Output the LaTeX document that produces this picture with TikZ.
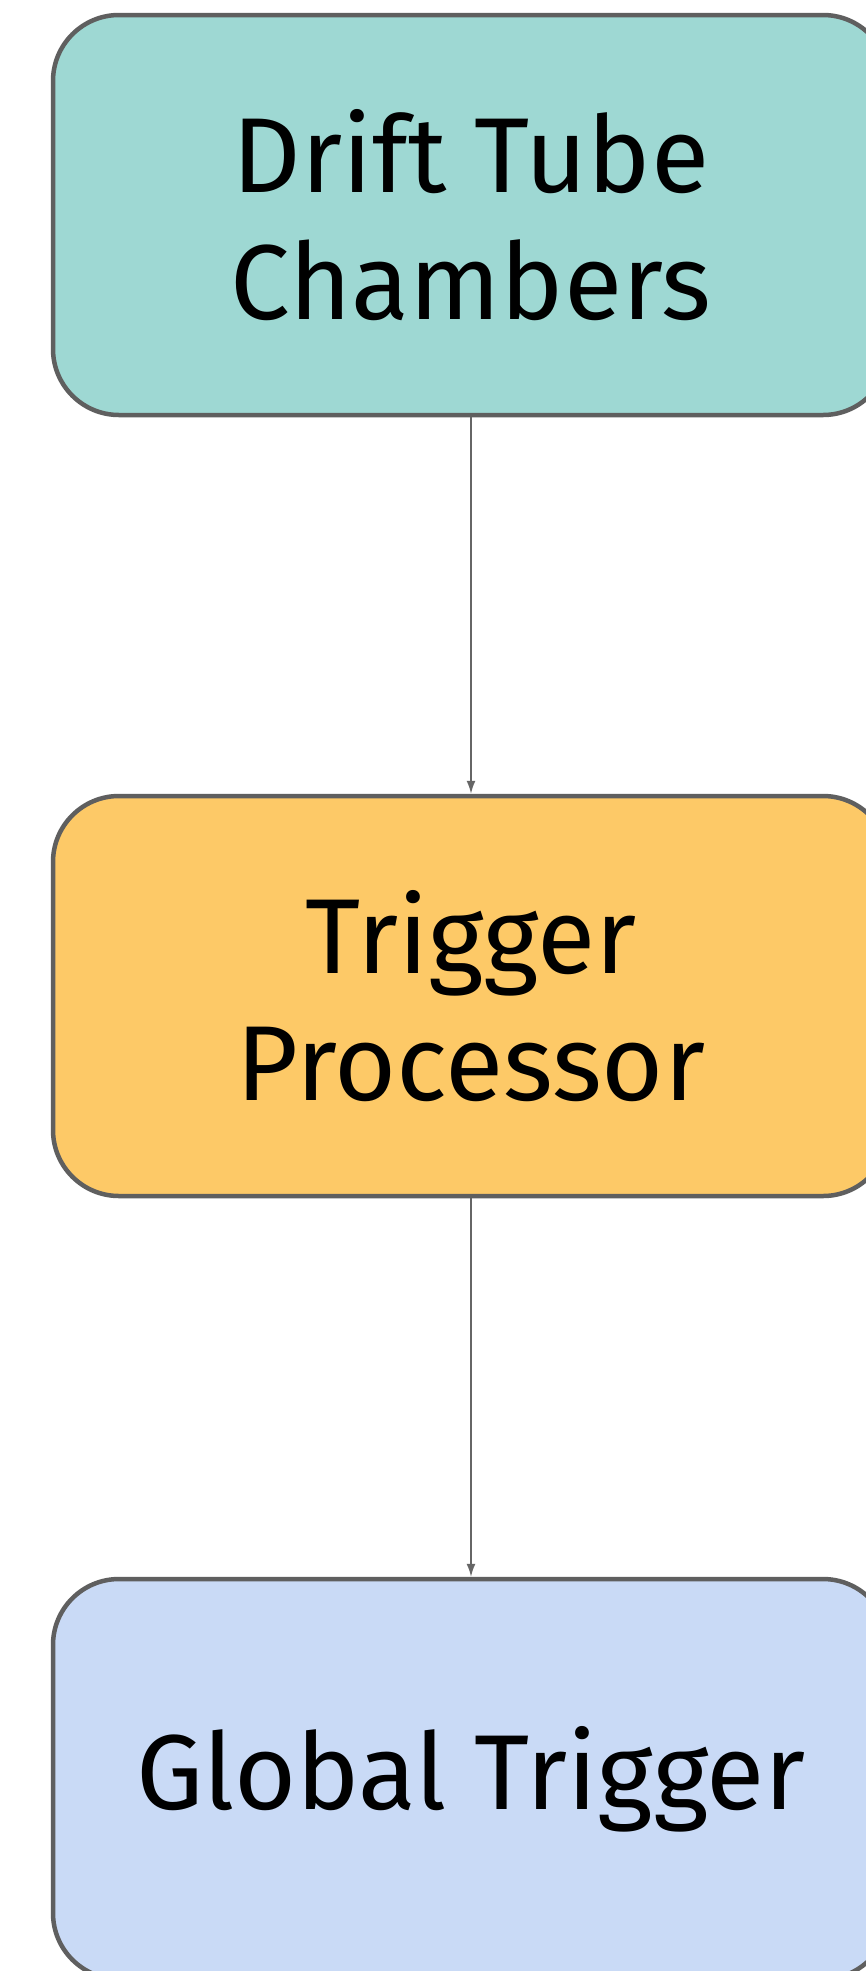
\documentclass[tikz,border=0pt]{standalone}
\usepackage{fontspec}
\setmainfont{Fira Sans}
\usetikzlibrary{arrows.meta}
\definecolor{tealfill}{HTML}{9ED8D3}
\definecolor{orangefill}{HTML}{FDC967}
\definecolor{bluefill}{HTML}{C9DAF6}
\definecolor{boxline}{HTML}{5F5F5F}
\definecolor{arrowline}{HTML}{666666}
\tikzset{
  blockbox/.style={draw=boxline, line width=4.5pt, rounded corners=66pt,
    minimum width=836pt, minimum height=400pt, align=center, inner sep=0pt,
    font=\fontsize{106.5}{127}\selectfont},
  flowarrow/.style={draw=arrowline, line width=1.6pt, -{Latex[length=13pt,width=9pt]}}
}
\begin{document}
\begin{tikzpicture}[x=1pt,y=-1pt]
\useasboundingbox (0,0) rectangle (866,1971);
\clip (0,0) rectangle (866,1971);
\fill[white] (0,0) rectangle (866,1971);
\node[blockbox, fill=tealfill] (dtc) at (471,215) {Drift Tube\\Chambers};
\node[blockbox, fill=orangefill] (tp) at (471,996) {Trigger\\Processor};
\node[blockbox, fill=bluefill] (gt) at (471,1779) {Global Trigger};
\draw[flowarrow] (dtc.south) -- (tp.north);
\draw[flowarrow] (tp.south) -- (gt.north);
\end{tikzpicture}
\end{document}
